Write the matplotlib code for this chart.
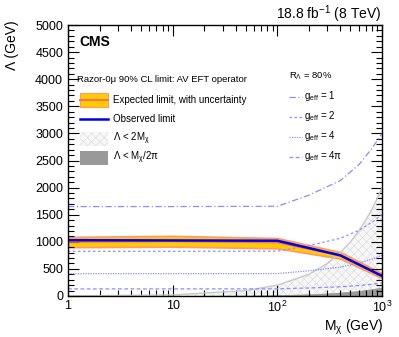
import numpy as np
import matplotlib
matplotlib.use("Agg")
import matplotlib.pyplot as plt
from matplotlib.patches import Rectangle
from matplotlib.ticker import FixedLocator, LogLocator, MultipleLocator, NullFormatter

plt.rcParams['font.family'] = ['Liberation Sans', 'DejaVu Sans']
plt.rcParams['mathtext.fontset'] = 'custom'
plt.rcParams['mathtext.rm'] = 'Liberation Sans'
plt.rcParams['mathtext.it'] = 'Liberation Sans'
plt.rcParams['hatch.linewidth'] = 0.4

# limit curves (GeV)
mass = [1, 10, 100, 400, 1000]
obs = [1030, 1025, 1020, 750, 370]
exp_mid = [1000, 1010, 990, 745, 372]
exp_lo = [900, 910, 880, 690, 330]
exp_hi = [1090, 1110, 1070, 810, 420]

# R_Lambda = 80% contours for each g_eff
g_mass = [1, 10, 100, 200, 400, 600, 800, 1000]
g1 = [1650, 1650, 1655, 1860, 2130, 2420, 2720, 3000]
g2 = [825, 825, 828, 930, 1065, 1210, 1360, 1500]
g4 = [412, 412, 414, 465, 533, 605, 680, 750]
g4pi = [131, 131, 132, 148, 170, 193, 216, 239]

# unphysical regions
m_grid = [1, 10, 50, 100, 200, 300, 400, 500, 600, 700, 800, 900, 1000]
lam_2m = [2, 20, 100, 200, 400, 600, 800, 1000, 1200, 1400, 1600, 1800, 2000]
lam_m2pi = [0.16, 1.6, 8, 16, 32, 48, 64, 80, 95, 111, 127, 143, 159]

fig = plt.figure(figsize=(3.99, 3.37), dpi=100)
ax = fig.add_axes([68 / 399, 1 - 296 / 337, 314 / 399, 271 / 337])

hatch_face, hatch_edge = '#f7f7f7', '#dadada'
ax.fill_between(m_grid, 0, lam_2m, facecolor=hatch_face, edgecolor=hatch_edge, hatch='xxxx', linewidth=0)
ax.plot(m_grid, lam_2m, color='#c8c8c8', lw=1)
ax.fill_between(m_grid, 0, lam_m2pi, facecolor='#999999', edgecolor='#999999', linewidth=0.5)

gcol = '#8c8cff'
ax.plot(g_mass, g1, color=gcol, lw=0.9, ls=(0, (5, 2, 1, 2)))
ax.plot(g_mass, g2, color=gcol, lw=0.9, ls=(0, (2, 2)))
ax.plot(g_mass, g4, color=gcol, lw=0.9, ls=(0, (1, 1)))
ax.plot(g_mass, g4pi, color=gcol, lw=0.9, ls=(0, (3, 2)))

ax.fill_between(mass, exp_lo, exp_hi, facecolor='#ffcc00', edgecolor='#ff9966', linewidth=1.2)
ax.plot(mass, exp_mid, color='#ff6f5e', lw=1.5)
ax.plot(mass, obs, color='#0000e6', lw=1.8)

ax.set_xscale('log')
ax.set_xlim(1, 1000)
ax.set_ylim(0, 5000)
ax.xaxis.set_major_locator(FixedLocator([1, 10, 100, 1000]))
ax.xaxis.set_minor_locator(LogLocator(base=10, subs=np.arange(2, 10)))
ax.xaxis.set_minor_formatter(NullFormatter())
ax.set_xticklabels(['1', '10', r'$10^2$', r'$10^3$'])
ax.yaxis.set_major_locator(MultipleLocator(500))
ax.yaxis.set_minor_locator(MultipleLocator(100))
ax.tick_params(which='both', direction='in', top=True, right=True, labelsize=9, width=0.8)
ax.tick_params(which='major', length=8)
ax.tick_params(which='minor', length=4)
ax.tick_params(axis='x', pad=3)
for s in ax.spines.values():
    s.set_linewidth(1.0)

fig.text(383 / 399, 1 - 327 / 337, r'M$_\chi$ (GeV)', ha='right', va='center', fontsize=10)
fig.text(12 / 399, 1 - 20 / 337, 'Λ (GeV)', ha='center', va='top', rotation=90, fontsize=10)
fig.text(381 / 399, 1 - 14 / 337, r'18.8 fb$^{-1}$ (8 TeV)', ha='right', va='center', fontsize=10)
fig.text(79 / 399, 1 - 42 / 337, 'CMS', fontsize=10, fontweight='bold', va='center')


def fx(px):
    return (px - 68) / 314


def fy(py):
    return (296 - py) / 271


T = ax.transAxes
ax.text(fx(77), fy(80), 'Razor-0μ 90% CL limit: AV EFT operator', transform=T, fontsize=6.8, va='center')
box_w, box_h = fx(108) - fx(80), fy(93) - fy(107)
rows = [100, 119, 139, 158]
ax.add_patch(Rectangle((fx(80), fy(rows[0]) - box_h / 2), box_w, box_h, transform=T,
                       facecolor='#ffcc00', edgecolor='#ff9966', lw=0.8))
ax.plot([fx(80), fx(108)], [fy(rows[0])] * 2, transform=T, color='#ff6f5e', lw=1.5)
ax.plot([fx(80), fx(108)], [fy(rows[1])] * 2, transform=T, color='#0000e6', lw=1.8)
ax.add_patch(Rectangle((fx(80), fy(rows[2]) - box_h / 2), box_w, box_h, transform=T,
                       facecolor=hatch_face, edgecolor=hatch_edge, hatch='xxxx', lw=0))
ax.add_patch(Rectangle((fx(80), fy(rows[3]) - box_h / 2), box_w, box_h, transform=T,
                       facecolor='#999999', edgecolor='none'))
labels = ['Expected limit, with uncertainty', 'Observed limit',
          r'Λ < 2M$_\chi$', r'Λ < M$_\chi$/2π']
for r, lab in zip(rows, labels):
    ax.text(fx(113), fy(r), lab, transform=T, fontsize=7, va='center')

ax.text(fx(289), fy(76), r'R$_Λ$ = 80%', transform=T, fontsize=6.8, va='center')
g_styles = [(0, (5, 2, 1, 2)), (0, (2, 2)), (0, (1, 1)), (0, (3, 2))]
g_labels = [r'g$_{\rm eff}$ = 1', r'g$_{\rm eff}$ = 2', r'g$_{\rm eff}$ = 4', r'g$_{\rm eff}$ = 4π']
for i, (st, lab) in enumerate(zip(g_styles, g_labels)):
    yy = 97 + 20 * i
    ax.plot([fx(289), fx(302)], [fy(yy)] * 2, transform=T, color=gcol, lw=0.9, ls=st)
    ax.text(fx(304), fy(yy - 1), lab, transform=T, fontsize=7, va='center')

fig.savefig('out.png', dpi=100)
